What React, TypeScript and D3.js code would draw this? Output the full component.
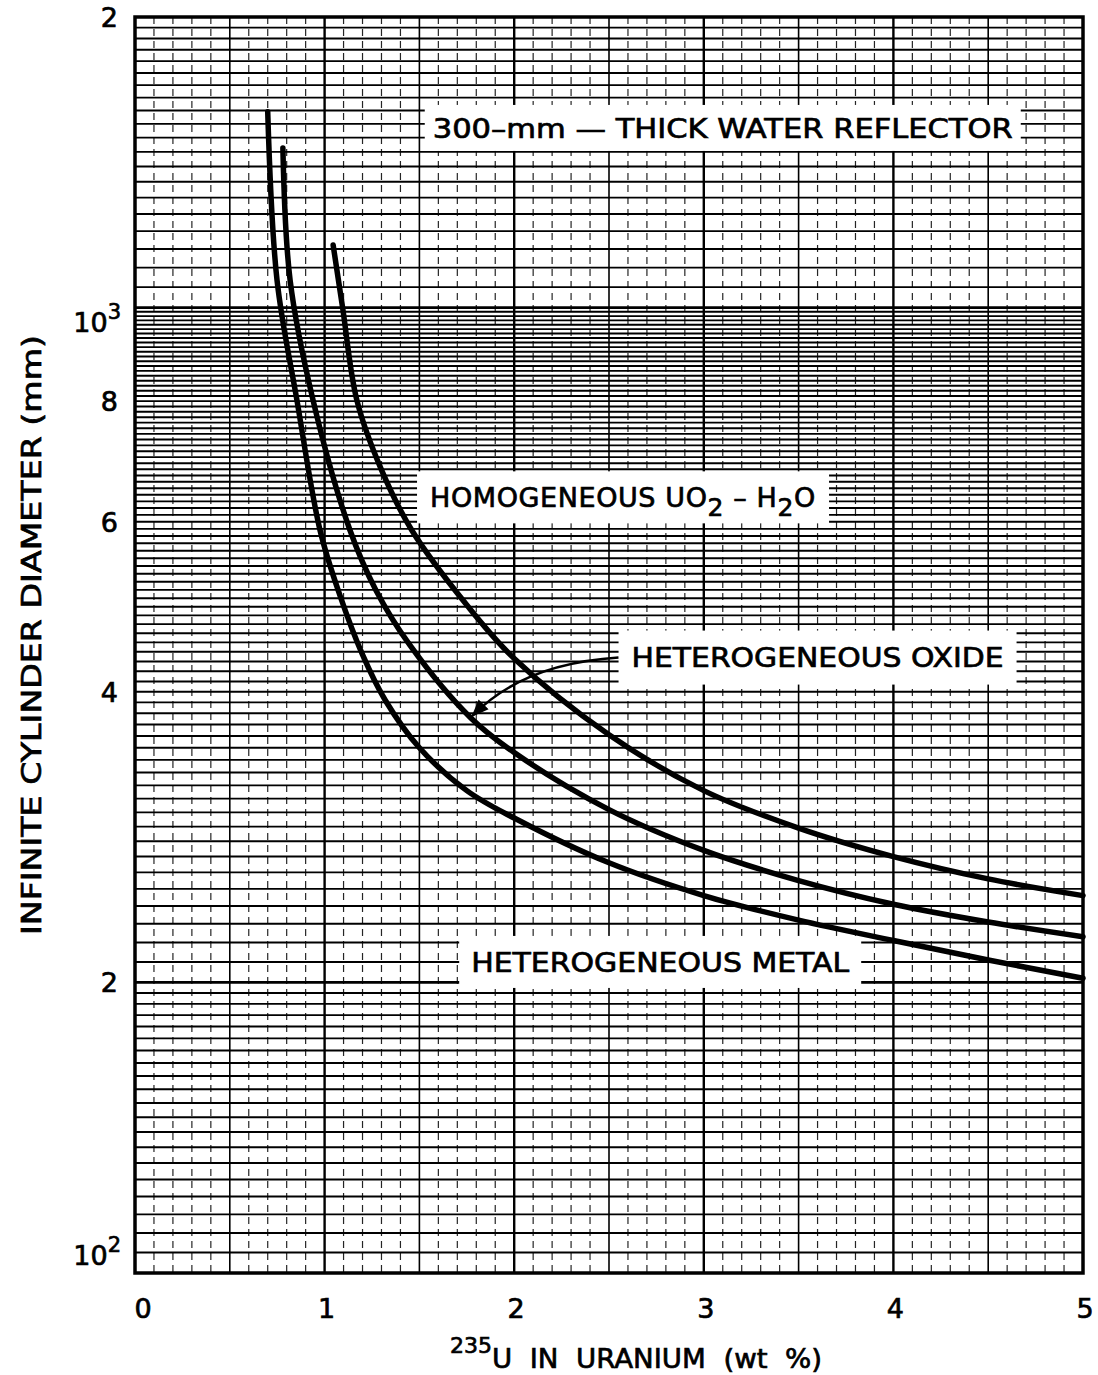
import React from 'react';
import * as d3 from 'd3';

// axis ticks
const xTicks = [0, 1, 2, 3, 4, 5];
const yTicks = [100, 200, 400, 600, 800, 1000, 2000];
const yTickBase = ['10', '2', '4', '6', '8', '10', '2'];
const yTickSup = ['2', '', '', '', '', '3', ''];

// curves (x = wt % 235U, y = diameter in mm)
const metalX = [0.70, 0.749, 0.854, 0.976, 1.08, 1.2, 1.32, 1.5, 1.75, 2.0, 2.5, 3.0, 3.5, 4.0, 4.5, 5.0];
const metalY = [1595, 1068, 802, 588, 504, 437, 392, 350, 316, 296, 266, 246, 232, 221, 211, 202];

const oxideX = [0.78, 0.818, 0.939, 1.134, 1.27, 1.45, 1.77, 2.0, 2.5, 3.0, 3.5, 4.0, 4.5, 5.0];
const oxideY = [1463, 1068, 802, 588, 510, 447, 376, 346, 302, 274, 255, 241, 231, 223];

const homogX = [1.045, 1.095, 1.17, 1.30, 1.46, 1.75, 2.0, 2.5, 3.0, 3.5, 4.0, 4.5, 5.0];
const homogY = [1161, 1000, 802, 679, 588, 492, 433, 361, 316, 289, 270, 256, 246];

const seriesX = [metalX, oxideX, homogX];
const seriesY = [metalY, oxideY, homogY];

// graph paper rulings
const gridX = d3.range(1, 50).map(i => i / 10);
const gridY = [
  ...d3.range(105, 200, 5),
  ...d3.range(200, 1000, 10),
  ...d3.range(1000, 2000, 50),
];

const W = 1098;
const H = 1375;
const left = 135;
const right = 1083;
const top = 17;
const bottom = 1273;

const font = '"DejaVu Sans", "Liberation Sans", sans-serif';

export default function App() {
  const x = d3.scaleLinear().domain([0, 5]).range([left, right]);
  const y = d3.scaleLog().domain([100, 2000]).range([bottom, top]);

  const line = d3.line<[number, number]>()
    .x(d => x(d[0]))
    .y(d => y(d[1]))
    .curve(d3.curveCatmullRom.alpha(0.5));

  const curves = seriesX.map((xs, i) => line(xs.map((v, j) => [v, seriesY[i][j]] as [number, number])) || '');

  // arrow from the oxide label to the oxide curve
  const tip: [number, number] = [1.77, 376];
  const tail: [number, number] = [2.55, 434];
  const tx = x(tip[0]) + 2, ty = y(tip[1]) - 2;
  const sx = x(tail[0]), sy = y(tail[1]);
  const arrowPath = `M${sx},${sy} Q${sx - 95},${sy + 6} ${tx},${ty}`;

  const box = (cx: number, cy: number, w: number, h: number) => (
    <rect x={x(cx) - w / 2} y={y(cy) - h / 2} width={w} height={h} fill="#fff" />
  );

  const bold = { stroke: '#000', strokeWidth: 0.7 };

  return (
    <div style={{ position: 'absolute', left: 0, top: 0 }}>
      <svg width={W} height={H} style={{ display: 'block', background: '#fff' }}>
        {/* vertical rulings */}
        {gridX.map(v => {
          const isHalf = Math.abs(v * 2 - Math.round(v * 2)) < 1e-6;
          const isInt = Math.abs(v - Math.round(v)) < 1e-6;
          return (
            <line key={'gx' + v} x1={x(v)} x2={x(v)} y1={top} y2={bottom}
              stroke="#000"
              strokeWidth={isInt ? 2.4 : isHalf ? 1.6 : 1.2}
              strokeDasharray={isHalf ? undefined : '7 5'}
              opacity={isHalf ? 1 : 0.85} />
          );
        })}
        {/* horizontal rulings */}
        {gridY.map(v => {
          const heavy = v === 200 || v === 1000;
          return (
            <line key={'gy' + v} x1={left} x2={right} y1={y(v)} y2={y(v)}
              stroke="#000" strokeWidth={heavy ? 2.8 : 1.9} />
          );
        })}

        {/* label boxes */}
        {box(3.1, 1535, 596, 46)}
        {box(2.574, 636, 412, 52)}
        {box(3.6, 434, 398, 54)}
        {box(2.77, 210, 402, 52)}

        {/* frame */}
        <rect x={left} y={top} width={right - left} height={bottom - top}
          fill="none" stroke="#000" strokeWidth={3.5} />

        {/* curves */}
        {curves.map((d, i) => (
          <path key={'c' + i} d={d} fill="none" stroke="#000" strokeWidth={5.5} strokeLinecap="round" />
        ))}

        {/* arrow */}
        <defs>
          <marker id="ah" viewBox="0 0 10 10" refX="9" refY="5" markerWidth="7" markerHeight="7"
            orient="auto" markerUnits="strokeWidth">
            <path d="M0,1 L10,5 L0,9 z" fill="#000" />
          </marker>
        </defs>
        <path d={arrowPath} fill="none" stroke="#000" strokeWidth={2.5} markerEnd="url(#ah)" />

        {/* annotations */}
        <g fontFamily={font} fontSize={27} fill="#000" style={{ whiteSpace: 'pre' }} {...bold}>
          <text x={x(3.1)} y={y(1535)} dy="0.36em" textAnchor="middle" textLength={580} lengthAdjust="spacingAndGlyphs">
            {'300–mm — THICK  WATER  REFLECTOR'}
          </text>
          <text x={x(2.574) - 193} y={y(636) + 10} letterSpacing={0.6}>
            {'HOMOGENEOUS  UO'}
            <tspan dy={9} fontSize={25}>2</tspan>
            <tspan dy={-9}>{' – H'}</tspan>
            <tspan dy={9} fontSize={25}>2</tspan>
            <tspan dy={-9}>O</tspan>
          </text>
          <text x={x(3.6)} y={y(434)} dy="0.36em" textAnchor="middle" textLength={372} lengthAdjust="spacingAndGlyphs">
            {'HETEROGENEOUS  OXIDE'}
          </text>
          <text x={x(2.77)} y={y(210)} dy="0.36em" textAnchor="middle" textLength={378} lengthAdjust="spacingAndGlyphs">
            {'HETEROGENEOUS  METAL'}
          </text>
        </g>

        {/* x tick labels */}
        <g fontFamily={font} fontSize={27} fill="#000" textAnchor="middle" {...bold}>
          {xTicks.map(v => (
            <text key={'xt' + v} x={x(v) + (v === 0 ? 8 : 2)} y={bottom + 45}>{v}</text>
          ))}
        </g>

        {/* y tick labels */}
        <g fontFamily={font} fontSize={27} fill="#000" textAnchor="end" {...bold}>
          {yTicks.map((v, i) => {
            const off = v === 100 ? -8 : v === 1000 ? 24 : 10;
            return (
              <text key={'yt' + v} x={yTickSup[i] ? 121 : 118} y={y(v) + off}>
                {yTickBase[i]}
                {yTickSup[i] ? <tspan dy={-13} fontSize={21}>{yTickSup[i]}</tspan> : null}
              </text>
            );
          })}
        </g>

        {/* axis titles */}
        <text x={450} y={1368} fontFamily={font} fontSize={27} style={{ whiteSpace: 'pre' }} {...bold}>
          <tspan fontSize={22} dy={-15}>235</tspan>
          <tspan dy={15} textLength={330} lengthAdjust="spacingAndGlyphs">{'U  IN  URANIUM  (wt  %)'}</tspan>
        </text>
        <text transform="translate(41,635) rotate(-90)" fontFamily={font} fontSize={27} textAnchor="middle"
          textLength={600} lengthAdjust="spacingAndGlyphs" {...bold}>
          INFINITE CYLINDER DIAMETER (mm)
        </text>
      </svg>
    </div>
  );
}
